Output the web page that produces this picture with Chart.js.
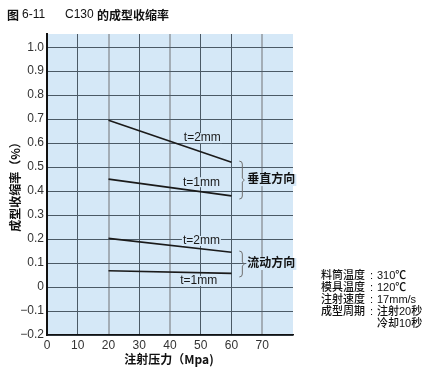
<!DOCTYPE html>
<html>
<head>
<meta charset="utf-8">
<script src="https://cdn.jsdelivr.net/npm/chart.js"></script>
<style>
  html, body { margin: 0; padding: 0; background: #fff; }
  #wrap { width: 440px; height: 384px; }
</style>
</head>
<body>
<div id="wrap"><canvas id="c" width="440" height="384"></canvas></div>
<script>
// 数据
const pressure = [20, 60];
const vert2mm = [0.695, 0.52];
const vert1mm = [0.45, 0.38];
const flow2mm = [0.203, 0.145];
const flow1mm = [0.068, 0.057];

const xTicks = [0, 10, 20, 30, 40, 50, 60, 70];
const yTicks = [-0.2, -0.1, 0, 0.1, 0.2, 0.3, 0.4, 0.5, 0.6, 0.7, 0.8, 0.9, 1.0];
const yTickLabels = ['\u22120.2', '\u22120.1', '0', '0.1', '0.2', '0.3', '0.4', '0.5', '0.6', '0.7', '0.8', '0.9', '1.0'];
const greyLinesX = [20, 40, 70];

// 标注（数据坐标）
const lineLabels = [
  { text: 't=2mm', x: 44.5, y: 0.621 },
  { text: 't=1mm', x: 44.2, y: 0.437 },
  { text: 't=2mm', x: 44.2, y: 0.192 },
  { text: 't=1mm', x: 43.3, y: 0.025 }
];
const groups = [
  { text: '垂直方向', x: 63.2, y0: 0.525, y1: 0.367 },
  { text: '流动方向', x: 63.2, y0: 0.15, y1: 0.042 }
];
const notes = [
  ['料筒温度', '310℃'],
  ['模具温度', '120℃'],
  ['注射速度', '17mm/s'],
  ['成型周期', '注射20秒'],
  ['', '冷却10秒']
];

const BG = '#d5e8f7';
const MIX = '"Liberation Sans", "Noto Sans CJK SC", sans-serif';
const LAT = '"Liberation Sans", Arial, sans-serif';

const mkSet = (d) => ({
  data: pressure.map((x, i) => ({ x: x, y: d[i] })),
  borderColor: '#1a1a1a',
  borderWidth: 1.6,
  pointRadius: 0,
  fill: false
});

const decor = {
  id: 'decor',
  beforeDraw(chart) {
    const { ctx, chartArea: a } = chart;
    ctx.save();
    ctx.fillStyle = BG;
    ctx.fillRect(a.left, a.top, a.right - a.left, a.bottom - a.top);
    ctx.restore();
  },
  afterDraw(chart) {
    const { ctx, scales } = chart;
    const xs = scales.x, ys = scales.y;
    ctx.save();

    // 标题
    ctx.fillStyle = '#111';
    ctx.textBaseline = 'middle';
    ctx.font = '600 12px "Noto Sans CJK SC", sans-serif';
    ctx.fillText('图', 7, 15);
    ctx.fillText('的成型收缩率', 97, 15);
    ctx.font = '12px ' + LAT;
    ctx.fillText('6-11', 22, 15);
    ctx.fillText('C130', 65, 15);

    // 轴标题
    ctx.font = '600 12px "Noto Sans CJK SC", sans-serif';
    ctx.textAlign = 'center';
    ctx.fillText('注射压力（Mpa)', 169, 359);
    ctx.save();
    ctx.translate(15, 184);
    ctx.rotate(-Math.PI / 2);
    ctx.fillText('成型收缩率（%）', 0, 0);
    ctx.restore();

    // 线标注
    ctx.textAlign = 'left';
    ctx.font = '12px ' + LAT;
    lineLabels.forEach(l => {
      const px = xs.getPixelForValue(l.x), py = ys.getPixelForValue(l.y);
      const w = ctx.measureText(l.text).width;
      ctx.fillStyle = BG;
      ctx.fillRect(px - 1, py - 5, w + 2, 10);
      ctx.fillStyle = '#1a1a1a';
      ctx.fillText(l.text, px, py);
    });

    // 括号与方向
    groups.forEach(g => {
      const bx = xs.getPixelForValue(g.x);
      const t = ys.getPixelForValue(g.y0), b = ys.getPixelForValue(g.y1);
      const m = (t + b) / 2;
      ctx.strokeStyle = '#6f6f6f';
      ctx.lineWidth = 1;
      ctx.beginPath();
      ctx.moveTo(bx - 2, t);
      ctx.quadraticCurveTo(bx + 1, t, bx + 1, t + 3);
      ctx.lineTo(bx + 1, m - 2);
      ctx.lineTo(bx + 3, m);
      ctx.lineTo(bx + 1, m + 2);
      ctx.lineTo(bx + 1, b - 3);
      ctx.quadraticCurveTo(bx + 1, b, bx - 2, b);
      ctx.stroke();
      ctx.font = '600 12px ' + MIX;
      const w = ctx.measureText(g.text).width;
      ctx.fillStyle = BG;
      ctx.fillRect(bx + 5, m - 6, w + 2, 12);
      ctx.fillStyle = '#111';
      ctx.fillText(g.text, bx + 6, m);
    });

    // 成型条件
    ctx.font = '500 11px ' + MIX;
    ctx.fillStyle = '#111';
    notes.forEach((n, i) => {
      const y = 276 + i * 12;
      if (n[0]) {
        ctx.fillText(n[0], 321, y);
        ctx.fillText(':', 370, y);
      }
      ctx.fillText(n[1], 377, y);
    });

    ctx.restore();
  }
};

new Chart(document.getElementById('c'), {
  type: 'line',
  data: {
    datasets: [mkSet(vert2mm), mkSet(vert1mm), mkSet(flow2mm), mkSet(flow1mm)]
  },
  options: {
    responsive: false,
    animation: false,
    devicePixelRatio: 1,
    layout: { padding: { left: 0, top: 34, right: 147, bottom: 0 } },
    plugins: { legend: { display: false }, tooltip: { enabled: false } },
    scales: {
      x: {
        type: 'linear',
        min: 0,
        max: 80,
        afterBuildTicks: s => { s.ticks = xTicks.map(v => ({ value: v })); },
        afterFit: s => { s.height = 49; },
        grid: {
          drawTicks: false,
          color: c => greyLinesX.includes(c.tick.value) ? '#a3adb6' : '#4b5a66',
          lineWidth: c => greyLinesX.includes(c.tick.value) ? 2 : 1
        },
        border: { color: '#111', width: 1.5 },
        ticks: { padding: 3, color: '#333', font: { family: LAT, size: 12 } }
      },
      y: {
        min: -0.2,
        max: 1.055,
        afterBuildTicks: s => { s.ticks = yTicks.map(v => ({ value: v })); },
        afterFit: s => { s.width = 47; },
        grid: { drawTicks: false, color: '#4b5a66', lineWidth: 1 },
        border: { color: '#111', width: 2 },
        ticks: {
          padding: 3,
          color: '#333',
          font: { family: LAT, size: 12 },
          callback: (v, i) => yTickLabels[i]
        }
      }
    }
  },
  plugins: [decor]
});
</script>
</body>
</html>
